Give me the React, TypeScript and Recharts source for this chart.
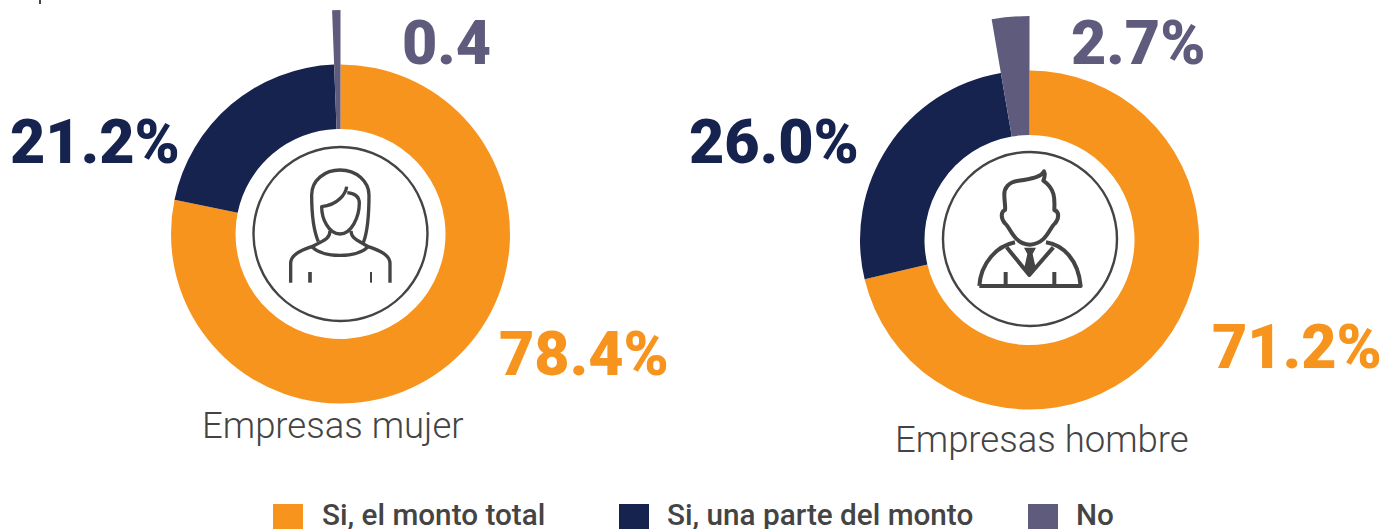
import { Cell, Pie, PieChart } from "recharts";

// share of companies, in percent, clockwise from 12 o'clock
const CATEGORIES = ["Si, el monto total", "Si, una parte del monto", "No"];
// the "No" slice is drawn a bit wider than its 0.4 label in the picture
const WOMEN_VALUES = [78.4, 21.2, 0.6];
const MEN_VALUES = [71.2, 26.0, 2.7];
const WOMEN_LABELS = ["78.4%", "21.2%", "0.4"];
const MEN_LABELS = ["71.2%", "26.0%", "2.7%"];

const COLORS = ["#f7941d", "#16234f", "#5f5b7c"];
const TEXT_COLOR = "#444444";
const FONT = "Roboto, sans-serif";

const LEGEND_SWATCH_X = [273, 619, 1028];
const LEGEND_TEXT_X = [322, 667, 1076];

function toRows(values: number[]) {
  return CATEGORIES.map((name, i) => ({ name, value: values[i] }));
}

const womenRows = toRows(WOMEN_VALUES);
const menRows = toRows(MEN_VALUES);

function Donut({ rows, cx, cy, keyName }: { rows: { name: string; value: number }[]; cx: number; cy: number; keyName: string }) {
  return [
    <Pie
      key={`${keyName}-base`}
      data={rows}
      dataKey="value"
      cx={cx}
      cy={cy}
      innerRadius={105}
      outerRadius={169.5}
      startAngle={90}
      endAngle={-270}
      stroke="none"
      isAnimationActive={false}
    >
      {rows.map((row, i) => (
        <Cell key={row.name} fill={i === 2 ? "transparent" : COLORS[i]} />
      ))}
    </Pie>,
    // the "No" slice sticks out of the ring
    <Pie
      key={`${keyName}-no`}
      data={rows}
      dataKey="value"
      cx={cx}
      cy={cy}
      innerRadius={105}
      outerRadius={224}
      startAngle={90}
      endAngle={-270}
      stroke="none"
      isAnimationActive={false}
    >
      {rows.map((row, i) => (
        <Cell key={row.name} fill={i === 2 ? COLORS[2] : "transparent"} />
      ))}
    </Pie>,
  ];
}

function WomanIcon() {
  return (
    <g
      transform="translate(270 160) scale(0.3333)"
      fill="none"
      stroke={TEXT_COLOR}
      strokeWidth={10}
      strokeLinecap="butt"
      strokeLinejoin="round"
    >
      <path d="M145,245 C130,210 125,150 125,105 C125,60 165,30 210,30 C260,30 297,65 297,105 C297,160 295,210 280,248" />
      <path d="M230,80 C228,100 205,135 155,140 C155,175 175,222 210,222 C245,222 268,170 268,130 C268,110 255,100 232,98" />
      <path d="M180,212 C180,235 165,240 125,260 C90,272 62,285 62,310 L62,368" />
      <path d="M243,212 C243,235 262,240 295,260 C330,272 360,285 360,310 L360,368" />
      <path d="M125,260 C160,295 260,295 295,260" />
      <path d="M120,336 V368" strokeWidth={11} />
      <path d="M303,336 V368" strokeWidth={6} />
    </g>
  );
}

function ManIcon() {
  return (
    <g
      transform="translate(960 160) scale(0.3333)"
      fill="none"
      stroke={TEXT_COLOR}
      strokeWidth={12}
      strokeLinejoin="round"
    >
      <path d="M252,34 C245,50 210,58 175,62 C145,66 132,85 133,105 C133,125 137,140 135,150 C122,155 122,175 135,190 C150,200 160,252 210,254 C260,252 270,200 285,190 C298,175 298,155 283,150 C283,125 290,90 250,62 C255,50 255,40 252,34 Z" />
      <path d="M58,378 H362 C355,300 310,255 258,247 M58,378 C62,310 110,258 165,247" />
      <path d="M140,262 L208,345 L280,262" />
      <path d="M137,336 V378 M283,336 V378" />
      <path d="M192,263 H228 L218,282 L228,328 L209,350 L192,328 L202,282 Z" fill={TEXT_COLOR} stroke="none" />
    </g>
  );
}

function BigLabel({ x, y, color, children }: { x: number; y: number; color: string; children: string }) {
  return (
    <text x={x} y={y} fill={color} fontFamily={FONT} fontSize={61} fontWeight={900}>
      {children}
    </text>
  );
}

export default function App() {
  return (
    <div style={{ position: "absolute", left: 0, top: 0, width: 1384, height: 529, overflow: "hidden", background: "#fff" }}>
      <PieChart width={1384} height={529} margin={{ top: 0, right: 0, bottom: 0, left: 0 }}>
        {Donut({ rows: womenRows, cx: 340.5, cy: 234, keyName: "women" })}
        {Donut({ rows: menRows, cx: 1029.5, cy: 240, keyName: "men" })}

        {/* leftover of the cropped title at the top edge */}
        <rect x={39} y={0} width={2} height={4} fill={TEXT_COLOR} />

        <circle cx={340.5} cy={234} r={87} fill="none" stroke={TEXT_COLOR} strokeWidth={2.4} />
        <circle cx={1030} cy={239} r={87} fill="none" stroke={TEXT_COLOR} strokeWidth={2.4} />
        <WomanIcon />
        <ManIcon />

        <BigLabel x={499} y={375} color={COLORS[0]}>{WOMEN_LABELS[0]}</BigLabel>
        <BigLabel x={10} y={163} color={COLORS[1]}>{WOMEN_LABELS[1]}</BigLabel>
        <BigLabel x={402} y={64} color={COLORS[2]}>{WOMEN_LABELS[2]}</BigLabel>
        <BigLabel x={1212} y={368} color={COLORS[0]}>{MEN_LABELS[0]}</BigLabel>
        <BigLabel x={689} y={163} color={COLORS[1]}>{MEN_LABELS[1]}</BigLabel>
        <BigLabel x={1071} y={64} color={COLORS[2]}>{MEN_LABELS[2]}</BigLabel>

        <text x={202} y={438} fill={TEXT_COLOR} fontFamily={FONT} fontSize={36.5} fontWeight={300}>
          Empresas mujer
        </text>
        <text x={895} y={452} fill={TEXT_COLOR} fontFamily={FONT} fontSize={36.5} fontWeight={300}>
          Empresas hombre
        </text>

        {CATEGORIES.map((name, i) => (
          <g key={name}>
            <rect x={LEGEND_SWATCH_X[i]} y={504} width={30} height={25} fill={COLORS[i]} />
            <text x={LEGEND_TEXT_X[i]} y={525} fill={TEXT_COLOR} fontFamily={FONT} fontSize={29.7} fontWeight={500}>
              {name}
            </text>
          </g>
        ))}
      </PieChart>
    </div>
  );
}
